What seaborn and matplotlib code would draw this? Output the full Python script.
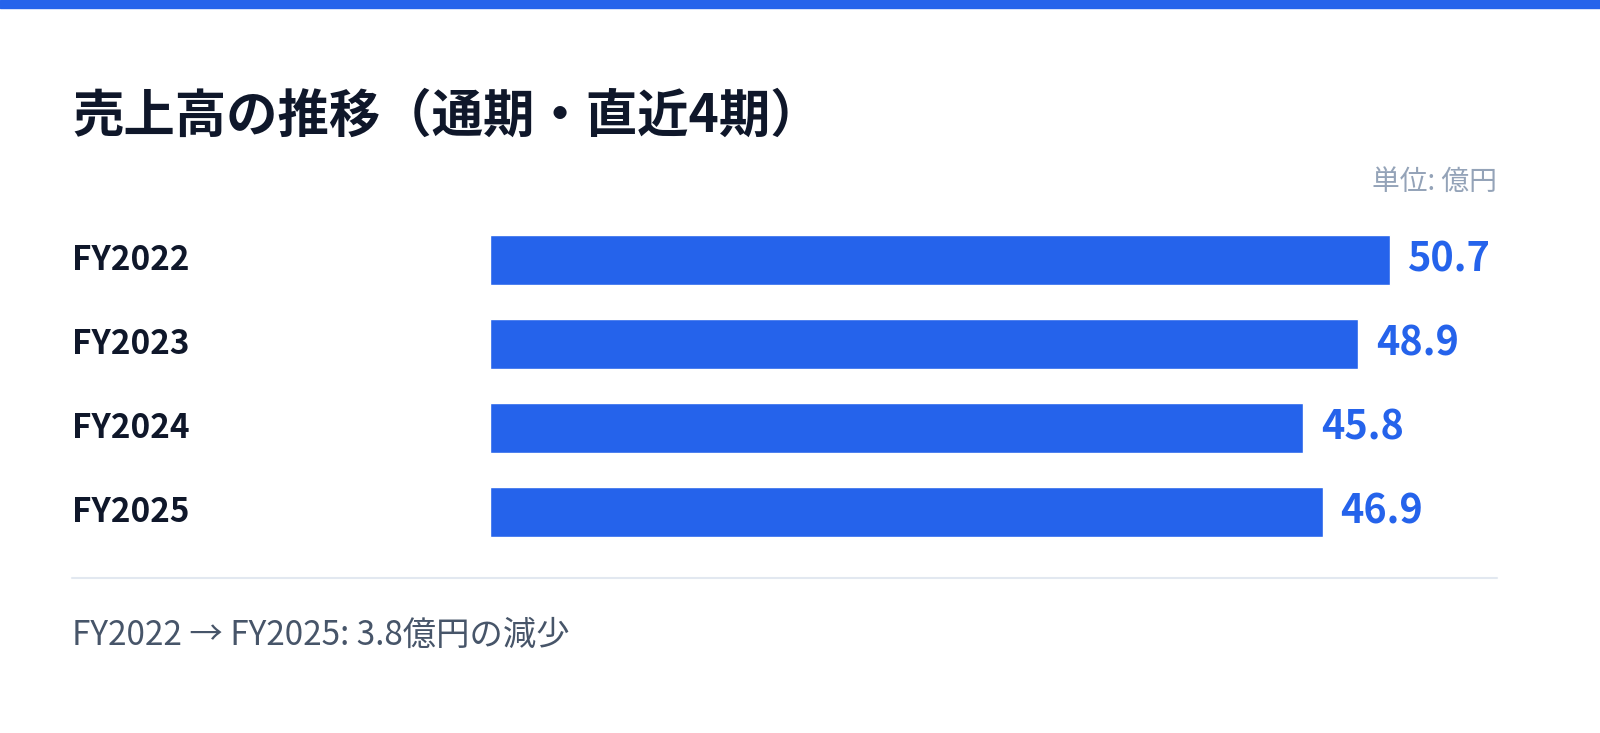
import matplotlib
matplotlib.use('Agg')
import matplotlib.pyplot as plt
import seaborn as sns
import pandas as pd

# データ
years = ['FY2022', 'FY2023', 'FY2024', 'FY2025']
sales = [50.7, 48.9, 45.8, 46.9]

title = '売上高の推移（通期・直近4期）'
unit_text = '単位: 億円'
footer_text = 'FY2022 → FY2025: 3.8億円の減少'

sns.set_theme(style='white')
plt.rcParams['font.family'] = ['Noto Sans CJK JP', 'DejaVu Sans']

W, H = 1600, 733
fig = plt.figure(figsize=(16, 7.33), dpi=100)
fig.patch.set_facecolor('white')


def fx(x):
    return x / W


def fy(y):
    return 1 - y / H


blue = '#2563eb'

# 上部のライン
fig.patches.append(plt.Rectangle((0, fy(8)), 1, 8 / H, transform=fig.transFigure,
                                 color=blue, zorder=0))

# 棒グラフ領域
ax = fig.add_axes([fx(490), fy(554), fx(1497) - fx(490), (554 - 218) / H])
df = pd.DataFrame({'year': years, 'sales': sales})
sns.barplot(data=df, x='sales', y='year', orient='h', color=blue,
            width=0.595, saturation=1, ax=ax)
ax.set_xlim(0, 56.73)
ax.set_ylim(3.5, -0.5)
ax.axis('off')

for i, v in enumerate(sales):
    ax.annotate(f'{v}', xy=(v, i), xytext=(13, 0), textcoords='offset points',
                ha='left', va='center', fontsize=28.5, fontweight='bold', color=blue)
    ax.annotate(years[i], xy=(0, i), xycoords=('figure fraction', 'data'),
                xytext=(72 * 0.72, 0), textcoords='offset points',
                ha='left', va='center', fontsize=24, fontweight='bold', color='#0f172a')

fig.text(fx(72), fy(116), title, fontsize=37, fontweight='bold', color='#0f172a',
         ha='left', va='center')
fig.text(fx(1497), fy(182), unit_text, fontsize=20, color='#94a3b8',
         ha='right', va='center')

# 区切り線
fig.add_artist(plt.Line2D([fx(72), fx(1497)], [fy(578), fy(578)],
                          transform=fig.transFigure, color='#e2e8f0', lw=1.5))

fig.text(fx(72), fy(635), footer_text, fontsize=24, color='#475569',
         ha='left', va='center')

fig.savefig('out.png', dpi=100, facecolor='white')
